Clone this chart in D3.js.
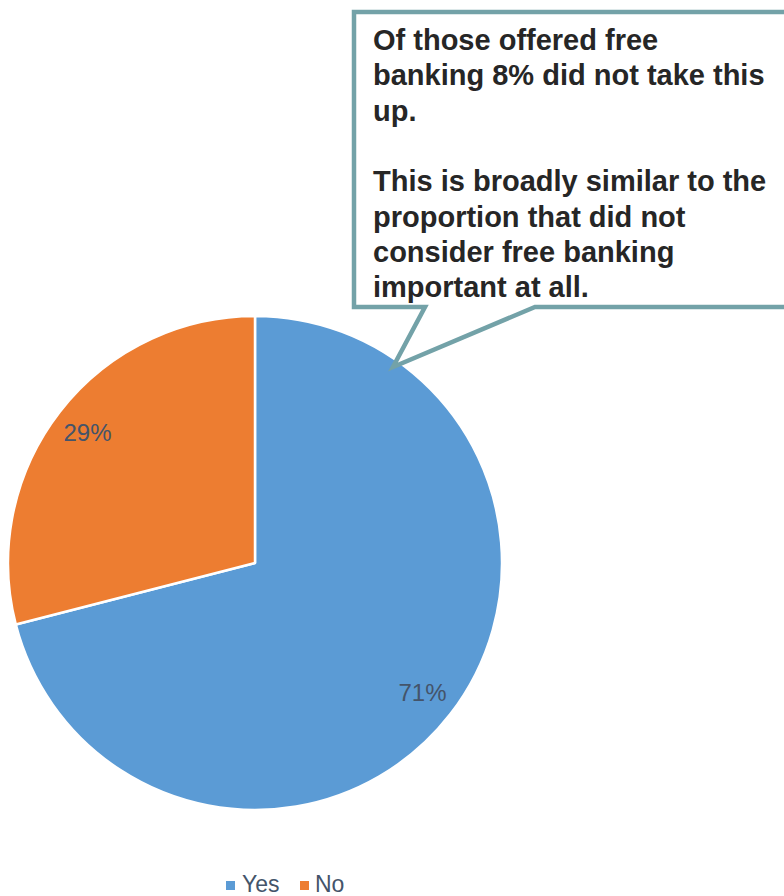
<!DOCTYPE html>
<html>
<head>
<meta charset="utf-8">
<script src="https://cdn.jsdelivr.net/npm/d3@7"></script>
<style>
  html, body { margin: 0; padding: 0; background: #fff; }
  svg { display: block; font-family: "Liberation Sans", Arial, sans-serif; }
</style>
</head>
<body>
<svg id="chart" width="784" height="896"></svg>
<script>
// Survey answers: was free banking taken up?
const categories = ["Yes", "No"];
const values = [71, 29];
const colors = ["#5b9bd5", "#ed7d31"];

const calloutLines = [
  "Of those offered free",
  "banking 8% did not take this",
  "up.",
  "",
  "This is broadly similar to the",
  "proportion that did not",
  "consider free banking",
  "important at all."
];

const svg = d3.select("#chart");
const cx = 255, cy = 563, radius = 247;

const pie = d3.pie().sort(null).value(d => d.value);
const data = categories.map((c, i) => ({ name: c, value: values[i] }));
const arcs = pie(data);

const arc = d3.arc().innerRadius(0).outerRadius(radius);
const labelArc = d3.arc().innerRadius(212).outerRadius(212);
const color = d3.scaleOrdinal().domain(categories).range(colors);

const g = svg.append("g").attr("transform", `translate(${cx},${cy})`);

g.selectAll("path.slice")
  .data(arcs)
  .enter().append("path")
  .attr("class", "slice")
  .attr("d", arc)
  .attr("fill", d => color(d.data.name))
  .attr("stroke", "#fff")
  .attr("stroke-width", 2.5)
  .attr("stroke-linejoin", "round");

g.selectAll("text.pct")
  .data(arcs)
  .enter().append("text")
  .attr("class", "pct")
  .attr("transform", d => `translate(${labelArc.centroid(d)})`)
  .attr("text-anchor", "middle")
  .attr("dy", "0.35em")
  .attr("font-size", 24)
  .attr("fill", "#44546a")
  .text(d => d.data.value + "%");

// Speech-bubble callout pointing into the "Yes" slice
const bx0 = 354, by0 = 12, bx1 = 800, by1 = 307;
const tip = [393, 367], baseL = 425, baseR = 535;
const bubble = d3.path();
bubble.moveTo(bx0, by0);
bubble.lineTo(bx1, by0);
bubble.lineTo(bx1, by1);
bubble.lineTo(baseR, by1);
bubble.lineTo(tip[0], tip[1]);
bubble.lineTo(baseL, by1);
bubble.lineTo(bx0, by1);
bubble.closePath();

svg.append("path")
  .attr("d", bubble.toString())
  .attr("fill", "#fff")
  .attr("stroke", "#73a2a8")
  .attr("stroke-width", 4.5)
  .attr("stroke-linejoin", "miter");

svg.append("text")
  .attr("font-size", 29)
  .attr("font-weight", "bold")
  .attr("fill", "#262626")
  .selectAll("tspan")
  .data(calloutLines)
  .enter().append("tspan")
  .attr("x", 373)
  .attr("y", (d, i) => 50 + i * 35.3)
  .text(d => d);

// Legend
const legendItems = [
  { name: "Yes", sx: 226, tx: 242 },
  { name: "No", sx: 300, tx: 315 }
];
const lg = svg.append("g");
lg.selectAll("rect")
  .data(legendItems)
  .enter().append("rect")
  .attr("x", d => d.sx)
  .attr("y", 881)
  .attr("width", 9)
  .attr("height", 9)
  .attr("fill", d => color(d.name));
lg.selectAll("text")
  .data(legendItems)
  .enter().append("text")
  .attr("x", d => d.tx)
  .attr("y", 892)
  .attr("font-size", 23)
  .attr("fill", "#44546a")
  .text(d => d.name);
</script>
</body>
</html>
